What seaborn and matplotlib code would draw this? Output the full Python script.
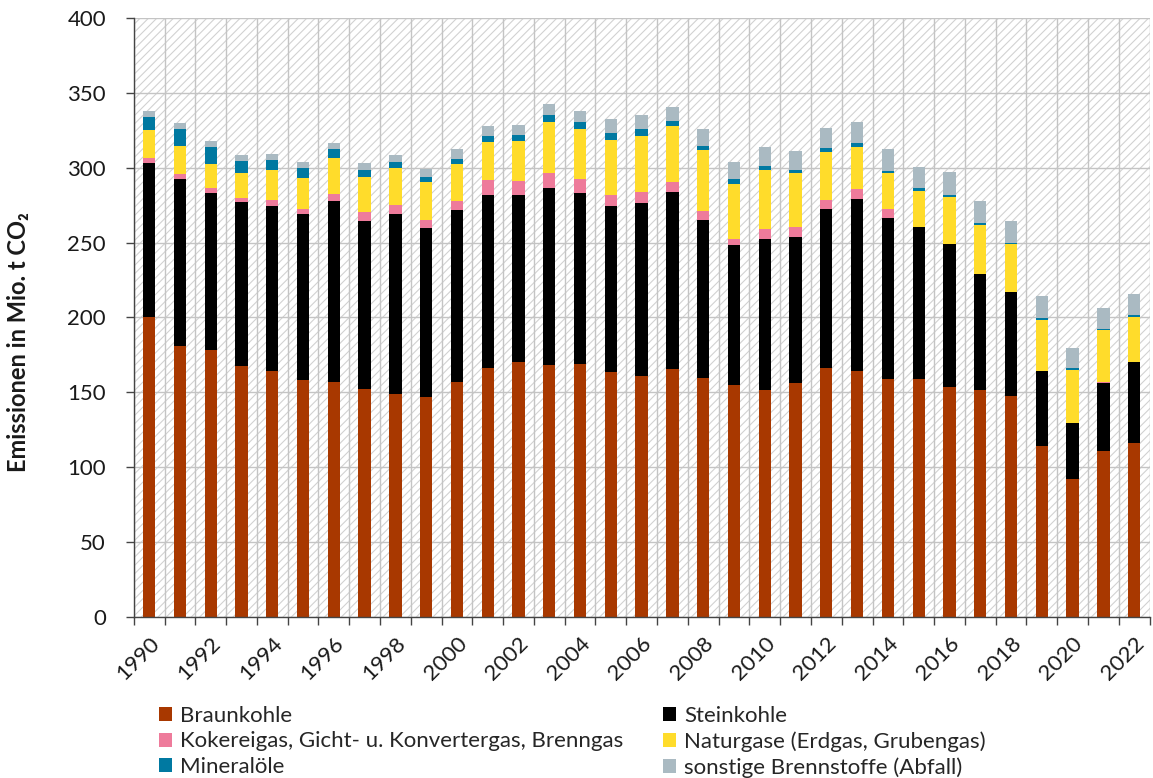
import numpy as np
import pandas as pd
import matplotlib
matplotlib.use("Agg")
import matplotlib.pyplot as plt
import seaborn as sns
from matplotlib.patches import Patch, Rectangle
from matplotlib.ticker import FixedLocator

years = list(range(1990, 2023))

braunkohle = [200.4, 181.1, 178.0, 167.6, 164.4, 158.2, 157.1, 152.2, 149.1, 146.7,
              157.1, 166.4, 170.2, 168.0, 168.7, 163.3, 160.7, 165.3, 159.6, 154.9,
              151.3, 156.4, 166.0, 164.0, 159.1, 158.7, 153.3, 151.3, 147.6, 114.2,
              92.2, 111.1, 116.2]
steinkohle = [102.5, 111.3, 105.1, 109.3, 110.3, 110.9, 120.7, 112.5, 120.2, 113.1,
              114.5, 115.6, 111.8, 118.2, 114.4, 111.4, 115.5, 118.5, 105.5, 93.5,
              100.9, 97.4, 106.4, 114.9, 107.3, 101.5, 95.4, 77.6, 69.3, 50.0,
              37.1, 45.3, 54.0]
kokereigas = [3.8, 3.6, 3.1, 2.7, 3.5, 3.3, 4.6, 5.7, 5.8, 5.5,
              6.0, 9.6, 9.1, 10.0, 9.3, 6.9, 7.4, 6.6, 6.0, 3.8,
              6.9, 6.6, 5.8, 6.7, 5.8, 0.3, 0.3, 0.3, 0.3, 0.3,
              0.5, 0.7, 0.2]
naturgase = [18.2, 18.4, 16.2, 16.6, 20.0, 20.9, 24.3, 23.6, 24.7, 25.1,
             24.8, 25.5, 26.5, 34.5, 33.6, 37.1, 37.7, 37.6, 40.7, 36.7,
             39.6, 35.8, 32.0, 28.2, 24.0, 24.2, 31.4, 32.6, 31.7, 33.9,
             35.1, 34.7, 29.7]
mineraloele = [8.9, 11.6, 11.2, 8.5, 6.9, 6.5, 5.7, 4.2, 3.8, 3.2,
               3.2, 3.8, 4.0, 4.2, 4.2, 4.6, 4.3, 2.9, 2.6, 3.5,
               2.6, 2.0, 3.1, 2.9, 1.6, 1.5, 1.4, 1.1, 0.9, 1.4,
               1.1, 0.6, 1.6]
sonstige = [3.8, 4.0, 4.0, 4.0, 4.0, 4.2, 4.3, 4.7, 4.6, 5.5,
            6.6, 6.7, 6.6, 7.3, 7.8, 8.9, 9.3, 9.8, 11.2, 11.6,
            12.5, 13.1, 13.1, 13.5, 14.4, 14.0, 15.1, 14.7, 14.4, 14.6,
            13.3, 14.1, 13.9]

series_names = ["Braunkohle", "Steinkohle", "Kokereigas, Gicht- u. Konvertergas, Brenngas",
                "Naturgase (Erdgas, Grubengas)", "Mineralöle", "sonstige Brennstoffe (Abfall)"]
series_vals = [braunkohle, steinkohle, kokereigas, naturgase, mineraloele, sonstige]
colors = ["#A83800", "#000000", "#EE7B9B", "#FFDC2B", "#0079A1", "#AABAC2"]

y_ticks = [0, 50, 100, 150, 200, 250, 300, 350, 400]
ylabel = "Emissionen in Mio. t CO₂"

sns.set_theme(style="white")
plt.rcParams['font.family'] = ['Lato', 'DejaVu Sans']
plt.rcParams['hatch.linewidth'] = 0.8

df = pd.DataFrame({"Jahr": [str(y) for y in years]})
cum = np.zeros(len(years))
cums = []
for vals in series_vals:
    cum = cum + np.array(vals)
    cums.append(cum.copy())

fig, ax = plt.subplots(figsize=(11.53, 7.78), dpi=100)
fig.subplots_adjust(left=0.116, right=0.997, top=0.977, bottom=0.207)

bg = Rectangle((0, 0), 1, 1, transform=ax.transAxes, facecolor="white",
               edgecolor="#d2d2d2", hatch="////", lw=0, zorder=0)
ax.add_patch(bg)

order = [str(y) for y in years]
for i in reversed(range(len(series_vals))):
    d = df.copy()
    d["val"] = cums[i]
    sns.barplot(data=d, x="Jahr", y="val", order=order, color=colors[i],
                saturation=1, width=0.4, linewidth=0, ax=ax, zorder=2)

ax.set_xlim(-0.5, len(years) - 0.5)
ax.set_ylim(0, 400)
ax.set_yticks(y_ticks)
ax.set_yticklabels([str(t) for t in y_ticks], fontsize=16, color="#1a1a1a")

ax.set_xticks(range(0, len(years), 2))
ax.set_xticklabels([str(y) for y in years[::2]], rotation=45, ha="right",
                   rotation_mode="anchor", fontsize=16, color="#1a1a1a")
ax.xaxis.set_minor_locator(FixedLocator(np.arange(-0.5, len(years), 1)))
ax.tick_params(axis="x", which="major", length=0, pad=12)
ax.tick_params(axis="x", which="minor", length=6, width=1, color="#444444", direction="out", bottom=True)
ax.tick_params(axis="y", which="major", length=6, width=1, color="#444444", direction="out", left=True, pad=14)

ax.set_axisbelow(True)
ax.grid(False)
ax.yaxis.grid(True, color="#c4c4c4", lw=1)
ax.xaxis.grid(True, which="minor", color="#c4c4c4", lw=1)

for s in ["top", "right"]:
    ax.spines[s].set_visible(False)
for s in ["left", "bottom"]:
    ax.spines[s].set_color("#444444")
    ax.spines[s].set_linewidth(1)

ax.set_xlabel("")
ax.set_ylabel(ylabel, fontsize=17, fontweight="bold", color="#1a1a1a")
ax.yaxis.set_label_coords(-0.102, 0.459)

handles = [Patch(facecolor=c, edgecolor="none") for c in colors]
leg_order = [0, 2, 4, 1, 3, 5]
fig.legend([handles[i] for i in leg_order], [series_names[i] for i in leg_order],
           ncol=2, loc="upper left", bbox_to_anchor=(0.128, 0.107), frameon=False,
           fontsize=16, handlelength=0.6, handleheight=0.6, handletextpad=0.35,
           columnspacing=1.8, labelspacing=0.25, borderpad=0)

fig.savefig("out.png", dpi=100)
